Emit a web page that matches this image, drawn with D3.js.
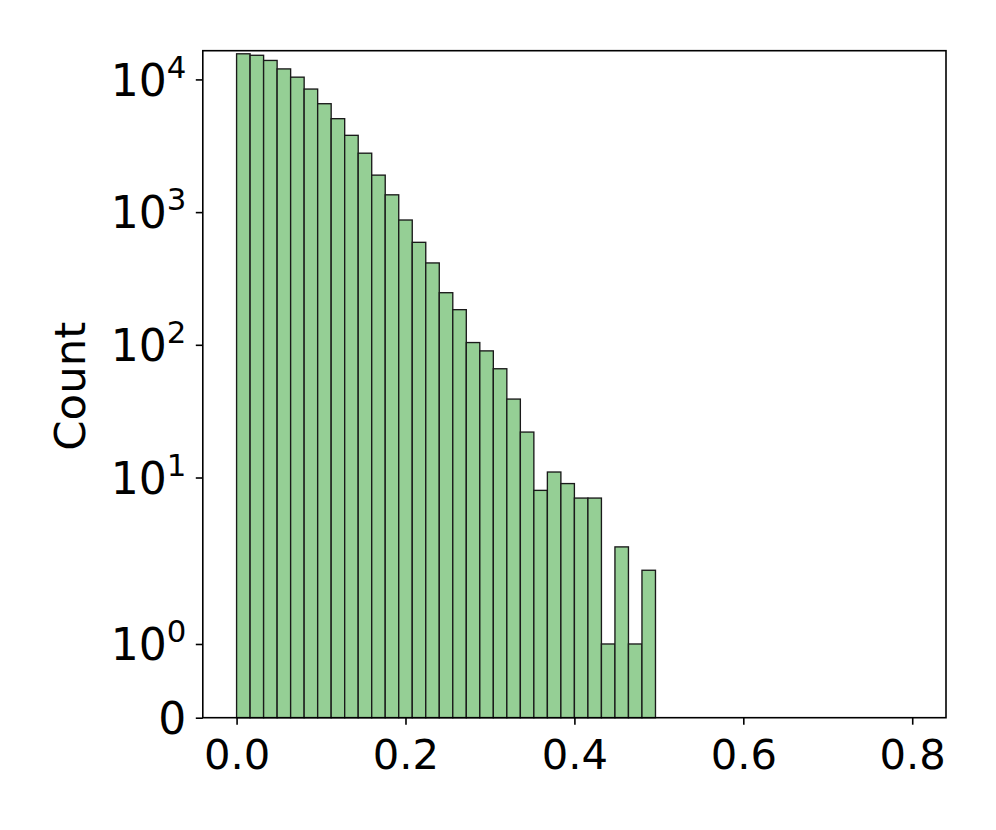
<!DOCTYPE html>
<html>
<head>
<meta charset="utf-8">
<script src="https://cdn.jsdelivr.net/npm/d3@7"></script>
<style>
  html, body { margin: 0; padding: 0; background: #ffffff; }
  svg { display: block; }
  text { font-family: "DejaVu Sans", sans-serif; fill: #000; }
</style>
</head>
<body>
<svg id="chart" width="996" height="830"></svg>
<script>
// ---- data ----
const binWidth = 0.016;
const binStart = 0.0;
const counts = [15600, 15200, 13900, 12000, 10400, 8460, 6560, 5060, 3790, 2780,
                1900, 1350, 872, 592, 414, 247, 184, 104, 90, 66,
                39, 22, 8, 11, 9, 7, 7, 1, 3, 1, 2];
const xTicks = [0.0, 0.2, 0.4, 0.6, 0.8];
const yTicks = [0, 1, 10, 100, 1000, 10000];
const xDomain = [-0.04, 0.84];
const yTop = 16460;
const yLabel = "Count";

(function () {
// ---- symlog transform (linthresh 2, linscale 1, base 10) ----
const linthresh = 2, linscaleAdj = 1 / (1 - 1 / 10);
function symT(v) {
  const a = Math.abs(v);
  if (a <= linthresh) return v * linscaleAdj;
  return Math.sign(v) * linthresh * (linscaleAdj + Math.log10(a / linthresh));
}

// ---- layout ----
const mLeft = 202.8, mRight = 946, mTop = 50.7, mBottom = 717.7;
const svg = d3.select("#chart");

const x = d3.scaleLinear().domain(xDomain).range([mLeft, mRight]);
const yT = d3.scaleLinear().domain([0, symT(yTop)]).range([mBottom, mTop]);
const y = v => yT(symT(v));

// bars
svg.append("g").selectAll("rect")
  .data(counts)
  .join("rect")
  .attr("x", (d, i) => x(binStart + i * binWidth))
  .attr("width", (d, i) => x(binStart + (i + 1) * binWidth) - x(binStart + i * binWidth))
  .attr("y", d => y(d))
  .attr("height", d => y(0) - y(d))
  .attr("fill", "#95cf95")
  .attr("stroke", "#1a1a1a")
  .attr("stroke-width", 1.35);

// x axis
const fs = 41.7;
const xAxis = d3.axisBottom(x).tickValues(xTicks).tickFormat(d3.format(".1f"))
  .tickSize(7).tickPadding(15);
const gx = svg.append("g").attr("transform", `translate(0,${mBottom})`).call(xAxis);
gx.select(".domain").remove();
gx.selectAll(".tick line").attr("stroke", "#000").attr("stroke-width", 1.6);
gx.selectAll(".tick text").attr("font-size", fs).attr("font-family", "DejaVu Sans");

// y axis
const fsY = 44;
const yAxis = d3.axisLeft(yT).tickValues(yTicks.map(symT)).tickSize(7).tickPadding(9.5)
  .tickFormat("");
const gy = svg.append("g").attr("transform", `translate(${mLeft},0)`).call(yAxis);
gy.select(".domain").remove();
gy.selectAll(".tick line").attr("stroke", "#000").attr("stroke-width", 1.6);
gy.selectAll(".tick text").each(function(d, i) {
  const v = yTicks[i];
  const t = d3.select(this).text(null)
    .attr("font-size", fsY).attr("font-family", "DejaVu Sans")
    .attr("dy", "0.36em");
  if (v === 0) {
    t.append("tspan").text("0");
  } else {
    const e = Math.round(Math.log10(v));
    t.append("tspan").text("10");
    t.append("tspan").text(String(e)).attr("font-size", fsY * 0.7).attr("dy", -18);
  }
});

// frame (spines)
svg.append("rect")
  .attr("x", mLeft).attr("y", mTop)
  .attr("width", mRight - mLeft).attr("height", mBottom - mTop)
  .attr("fill", "none").attr("stroke", "#000").attr("stroke-width", 1.6);

// y label
svg.append("text")
  .attr("transform", `translate(85,${(mTop + mBottom) / 2 + 2}) rotate(-90)`)
  .attr("text-anchor", "middle")
  .attr("font-size", 43.5)
  .text(yLabel);
})();
</script>
</body>
</html>
